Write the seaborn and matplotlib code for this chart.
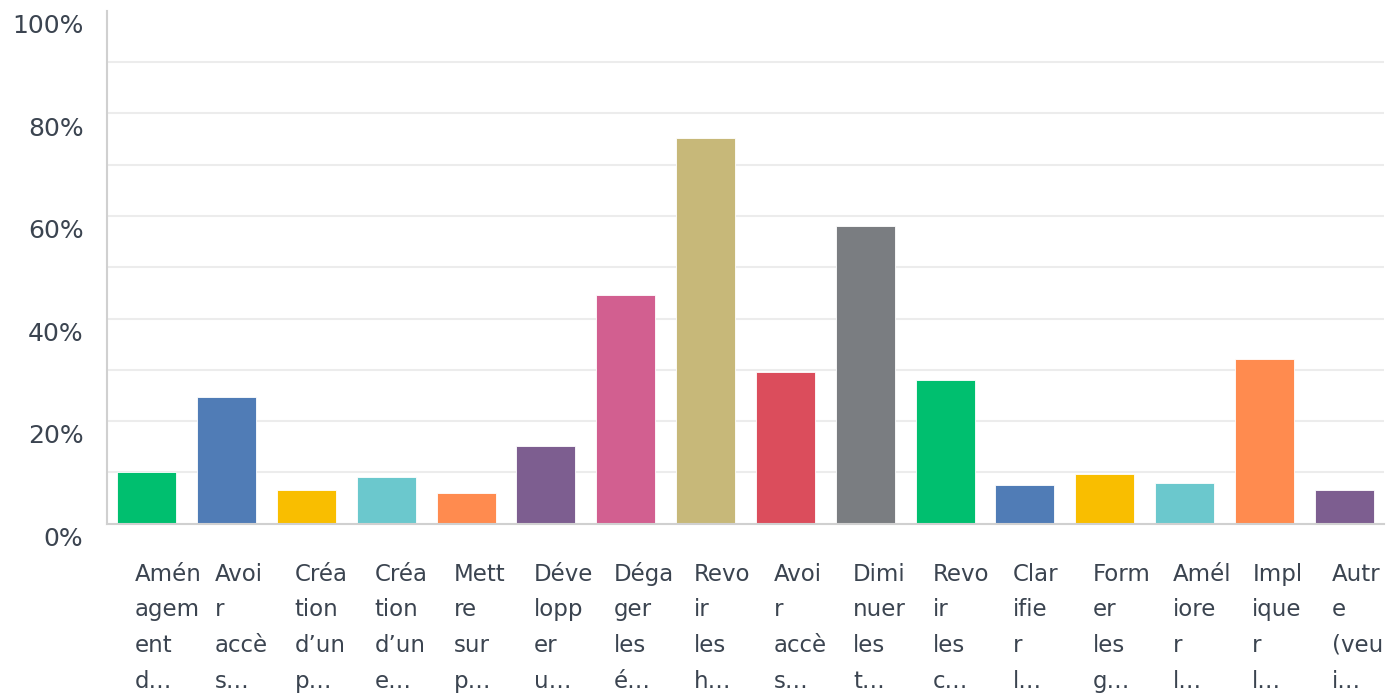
import numpy as np
import pandas as pd
import seaborn as sns
import matplotlib.pyplot as plt
import matplotlib.transforms as mtransforms
from matplotlib.ticker import FuncFormatter, MultipleLocator, FixedLocator

# Data (share of respondents)
labels = [
    "Amén\nagem\nent\nd…",
    "Avoi\nr\naccè\ns…",
    "Créa\ntion\nd’un\np…",
    "Créa\ntion\nd’un\ne…",
    "Mett\nre\nsur\np…",
    "Déve\nlopp\ner\nu…",
    "Déga\nger\nles\né…",
    "Revo\nir\nles\nh…",
    "Avoi\nr\naccè\ns…",
    "Dimi\nnuer\nles\nt…",
    "Revo\nir\nles\nc…",
    "Clar\nifie\nr\nl…",
    "Form\ner\nles\ng…",
    "Amél\niore\nr\nl…",
    "Impl\nique\nr\nl…",
    "Autr\ne\n(veu\ni…",
]
values = [0.101, 0.247, 0.066, 0.091, 0.060, 0.151, 0.446, 0.751,
          0.296, 0.581, 0.281, 0.076, 0.096, 0.080, 0.321, 0.065]

palette = ["#00BF6F", "#507CB6", "#F9BE00", "#6BC8CD", "#FF8B4F",
           "#7D5E90", "#D25F90", "#C7B879", "#DB4D5C", "#7A7D81"]
colors = [palette[i % len(palette)] for i in range(len(values))]

grid_levels = [0.1, 0.2, 0.3, 0.4, 0.5, 0.6, 0.7, 0.8, 0.9]

text_color = "#3b4450"

df = pd.DataFrame({"pos": range(len(values)), "value": values})

sns.set_style("white")
plt.rcParams["font.family"] = ["DejaVu Sans"]

fig = plt.figure(figsize=(13.92, 6.93), dpi=100)
ax = fig.add_axes([107 / 1392, 1 - 523.7 / 693, 1277 / 1392, 513 / 693])

sns.barplot(data=df, x="pos", y="value", hue="pos", palette=colors, saturation=1,
            legend=False, width=0.74, edgecolor="white", linewidth=0.6, ax=ax)

ax.set_xlim(-0.5, len(values) - 0.5)
ax.set_ylim(0, 1)
ax.set_xlabel("")
ax.set_ylabel("")

# labels every 20%, gridlines every 10% (none at the top)
ax.yaxis.set_major_locator(MultipleLocator(0.2))
ax.yaxis.set_minor_locator(FixedLocator(grid_levels))
ax.yaxis.remove_overlapping_locs = False
ax.yaxis.set_major_formatter(FuncFormatter(lambda v, p: f"{v:.0%}"))
ax.grid(False)
ax.grid(axis="y", which="minor", color="#ececec", linewidth=1.5)
ax.set_axisbelow(True)

for side in ["top", "right"]:
    ax.spines[side].set_visible(False)
ax.spines["left"].set_color("#d0d0d0")
ax.spines["bottom"].set_color("#d0d0d0")
ax.spines["left"].set_linewidth(1.5)
ax.spines["bottom"].set_linewidth(1.5)

ax.tick_params(axis="y", which="both", length=0, pad=17, labelsize=18, labelcolor=text_color)
ax.tick_params(axis="x", length=0, pad=118, labelsize=16.5, labelcolor=text_color)

ax.set_xticks(range(len(values)))
ax.set_xticklabels(labels, ha="left", va="baseline", linespacing=1.7)

# y labels sit a little below their gridline
offset_y = mtransforms.ScaledTranslation(0, -12.8 / 100, fig.dpi_scale_trans)
for lab in ax.get_yticklabels():
    lab.set_transform(lab.get_transform() + offset_y)

# x labels start a bit left of the bar centre
offset_x = mtransforms.ScaledTranslation(-12 / 100, 0, fig.dpi_scale_trans)
for lab in ax.get_xticklabels():
    lab.set_transform(lab.get_transform() + offset_x)

fig.savefig("out.png", dpi=100)
